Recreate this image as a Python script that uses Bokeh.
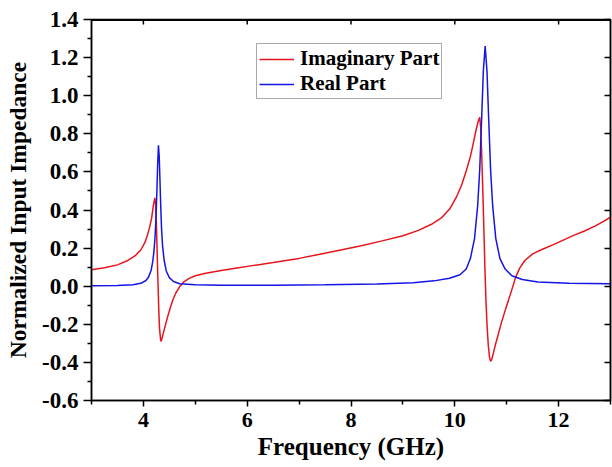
from bokeh.plotting import figure
from bokeh.models import (LinearAxis, FixedTicker, PrintfTickFormatter,
                          Range1d, Legend, LegendItem)
from bokeh.embed import file_html
from bokeh.resources import INLINE

# ---- data ----
imag_freq = [3.00, 3.25, 3.50, 3.70, 3.85, 3.95, 4.03, 4.08, 4.12, 4.16, 4.19, 4.22,
             4.235, 4.25, 4.265, 4.28, 4.295, 4.31, 4.335, 4.355, 4.38, 4.42, 4.47,
             4.52, 4.57, 4.63, 4.70, 4.78, 4.88, 5.00, 5.20, 5.50, 5.80, 6.10, 6.50,
             7.00, 7.40, 7.80, 8.20, 8.60, 9.00, 9.30, 9.55, 9.75, 9.90, 10.03, 10.13,
             10.22, 10.30, 10.36, 10.41, 10.45, 10.48, 10.50, 10.52, 10.54, 10.56,
             10.58, 10.60, 10.62, 10.645, 10.67, 10.69, 10.71, 10.74, 10.78, 10.83,
             10.90, 10.99, 11.08, 11.17, 11.25, 11.35, 11.50, 11.70, 11.90, 12.10,
             12.30, 12.50, 12.70, 12.85, 13.00]
imag_part = [0.086, 0.097, 0.112, 0.135, 0.162, 0.190, 0.230, 0.270, 0.310, 0.360, 0.420,
             0.464, 0.430, 0.330, 0.180, 0.030, -0.110, -0.220, -0.290, -0.278, -0.250,
             -0.208, -0.157, -0.112, -0.070, -0.033, -0.002, 0.023, 0.041, 0.055, 0.068,
             0.083, 0.096, 0.108, 0.124, 0.146, 0.168, 0.190, 0.212, 0.238, 0.265,
             0.293, 0.325, 0.360, 0.405, 0.467, 0.530, 0.605, 0.680, 0.755, 0.820,
             0.865, 0.887, 0.830, 0.680, 0.500, 0.300, 0.100, -0.070, -0.200, -0.310,
             -0.375, -0.394, -0.385, -0.355, -0.310, -0.260, -0.190, -0.110, -0.035,
             0.045, 0.095, 0.135, 0.170, 0.195, 0.218, 0.243, 0.268, 0.290, 0.315,
             0.338, 0.362]

real_freq = [3.00, 3.50, 3.80, 3.95, 4.05, 4.10, 4.15, 4.18, 4.20, 4.22, 4.24, 4.26,
             4.275, 4.29, 4.305, 4.32, 4.335, 4.35, 4.37, 4.40, 4.44, 4.50, 4.58,
             4.70, 5.00, 5.50, 6.50, 7.50, 8.50, 9.20, 9.60, 9.90, 10.10, 10.22,
             10.30, 10.38, 10.44, 10.48, 10.52, 10.55, 10.585, 10.62, 10.65, 10.69,
             10.73, 10.79, 10.87, 10.97, 11.10, 11.30, 11.60, 12.20, 13.00]
real_part = [0.003, 0.004, 0.008, 0.015, 0.030, 0.048, 0.084, 0.130, 0.175, 0.240,
             0.340, 0.500, 0.640, 0.740, 0.680, 0.550, 0.410, 0.300, 0.210, 0.135,
             0.080, 0.045, 0.025, 0.013, 0.007, 0.005, 0.005, 0.007, 0.011, 0.018,
             0.028, 0.042, 0.060, 0.090, 0.145, 0.250, 0.420, 0.610, 0.900, 1.130,
             1.260, 1.130, 0.900, 0.610, 0.420, 0.250, 0.145, 0.090, 0.055, 0.035,
             0.022, 0.015, 0.013]

x_ticks = [4, 6, 8, 10, 12]
x_minor_ticks = [3, 5, 7, 9, 11, 13]
y_ticks = [-0.6, -0.4, -0.2, 0.0, 0.2, 0.4, 0.6, 0.8, 1.0, 1.2, 1.4]
y_minor_ticks = [-0.5, -0.3, -0.1, 0.1, 0.3, 0.5, 0.7, 0.9, 1.1, 1.3]
labels = ["Imaginary Part", "Real Part"]

FONT = "Liberation Serif"
RED = "#e8141c"
BLUE = "#1414e6"

X0, X1, Y0, Y1 = 3, 13, -0.6, 1.4
B_LEFT, B_RIGHT, B_TOP, B_BOTTOM = 91, 2, 19, 66
W, H = 612, 466

p = figure(width=W, height=H, output_backend="svg", toolbar_location=None,
           x_range=Range1d(X0, X1), y_range=Range1d(Y0, Y1),
           min_border_left=B_LEFT, min_border_right=B_RIGHT, min_border_top=B_TOP,
           min_border_bottom=B_BOTTOM, background_fill_color="white",
           border_fill_color="white")
p.title.visible = False
p.xgrid.visible = False
p.ygrid.visible = False
p.outline_line_color = "black"
p.outline_line_width = 1.5

r_imag = p.line(imag_freq, imag_part, line_color=RED, line_width=1.5)
r_real = p.line(real_freq, real_part, line_color=BLUE, line_width=1.5)

# top frame edge with inward ticks (drawn as glyphs at the range edge)
frame_h = H - B_TOP - B_BOTTOM
tick_len = 5 * (Y1 - Y0) / frame_h
p.line(x=[X0, X1], y=[Y1, Y1], line_color="black", line_width=3)
p.segment(x0=x_ticks, y0=[Y1] * len(x_ticks), x1=x_ticks,
          y1=[Y1 - tick_len] * len(x_ticks), line_color="black", line_width=1.5)

xt = FixedTicker(ticks=x_ticks, minor_ticks=x_minor_ticks)
yt = FixedTicker(ticks=y_ticks, minor_ticks=y_minor_ticks)


def style(ax):
    ax.axis_line_width = 1.5
    ax.axis_line_color = "black"
    ax.major_tick_line_width = 1.5
    ax.minor_tick_line_width = 1.5
    ax.major_tick_line_color = "black"
    ax.minor_tick_line_color = "black"
    ax.major_label_text_font = FONT
    ax.major_label_text_font_style = "bold"
    ax.major_label_text_font_size = "22px"
    ax.major_label_text_color = "black"
    ax.axis_label_text_font = FONT
    ax.axis_label_text_font_style = "bold"
    ax.axis_label_text_color = "black"


xa = p.xaxis[0]
xa.ticker = xt
style(xa)
xa.major_tick_out = 6
xa.major_tick_in = 0
xa.minor_tick_out = 4
xa.minor_tick_in = 0
xa.major_label_standoff = 6
xa.axis_label = "Frequency (GHz)"
xa.axis_label_text_font_size = "25px"
xa.axis_label_standoff = 3

ya = p.yaxis[0]
ya.ticker = yt
style(ya)
ya.major_label_text_font_size = "23px"
ya.formatter = PrintfTickFormatter(format="%.1f")
ya.major_tick_out = 8
ya.major_tick_in = 0
ya.minor_tick_out = 4
ya.minor_tick_in = 0
ya.major_label_standoff = 5
ya.axis_label = "Normalized Input Impedance"
ya.axis_label_text_font_size = "23.5px"
ya.axis_label_standoff = 8

right = LinearAxis(ticker=yt)
style(right)
right.major_label_text_alpha = 0
right.major_label_text_font_size = "6px"
right.major_label_standoff = 0
right.major_tick_out = 0
right.major_tick_in = 6
right.minor_tick_out = 0
right.minor_tick_in = 0
p.add_layout(right, "right")

legend = Legend(items=[LegendItem(label=labels[0], renderers=[r_imag]),
                       LegendItem(label=labels[1], renderers=[r_real])],
                location=(165, 301), orientation="vertical",
                label_text_font=FONT, label_text_font_style="bold",
                label_text_font_size="21px", label_text_color="black",
                glyph_width=35, glyph_height=20, label_height=20,
                label_standoff=6, spacing=0, padding=2, margin=0,
                border_line_color="#555555", border_line_width=1,
                background_fill_color="white", background_fill_alpha=1.0)
p.add_layout(legend, "center")

open("out.html", "w").write(file_html(p, INLINE))
